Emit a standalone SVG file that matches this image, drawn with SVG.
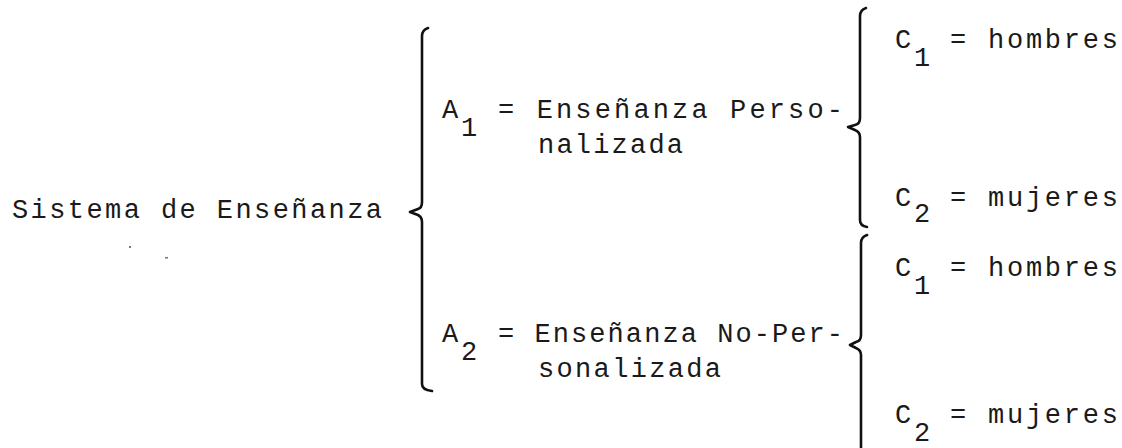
<svg xmlns="http://www.w3.org/2000/svg" width="1122" height="448" viewBox="0 0 1122 448">
<style>
text{font-family:"Liberation Mono","DejaVu Sans Mono",monospace;font-size:27px;fill:#1a1a1a}
.brace{fill:none;stroke:#111;stroke-width:2.6;stroke-linecap:round;stroke-linejoin:round}
.speck{fill:#777}
</style>
<rect width="1122" height="448" fill="#fff"/>
<g id="root">
<text x="12" y="218" textLength="370" lengthAdjust="spacing">Sistema de Enseñanza</text>
<rect class="speck" x="129" y="246" width="2" height="2"/>
<rect class="speck" x="165" y="257" width="3" height="1.5"/>
</g>
<g id="a1">
<text x="442" y="118">A</text>
<text x="461" y="136">1</text>
<text x="498" y="118" textLength="345" lengthAdjust="spacing">= Enseñanza Perso-</text>
<text x="538" y="153" textLength="145" lengthAdjust="spacing">nalizada</text>
</g>
<g id="a2">
<text x="442" y="342">A</text>
<text x="461" y="360">2</text>
<text x="498" y="342" textLength="345" lengthAdjust="spacing">= Enseñanza No-Per-</text>
<text x="538" y="377" textLength="183" lengthAdjust="spacing">sonalizada</text>
</g>
<g id="c1a">
<text x="895" y="48">C</text>
<text x="914" y="66">1</text>
<text x="950" y="48" textLength="168" lengthAdjust="spacing">= hombres</text>
</g>
<g id="c2a">
<text x="895" y="206">C</text>
<text x="914" y="222">2</text>
<text x="950" y="206" textLength="168" lengthAdjust="spacing">= mujeres</text>
</g>
<g id="c1b">
<text x="895" y="276">C</text>
<text x="914" y="294">1</text>
<text x="950" y="276" textLength="168" lengthAdjust="spacing">= hombres</text>
</g>
<g id="c2b">
<text x="895" y="423">C</text>
<text x="914" y="441">2</text>
<text x="950" y="423" textLength="168" lengthAdjust="spacing">= mujeres</text>
</g>
<g id="connectors">
<path class="brace" d="M428,28 Q422,30 422,36 L422,202 Q422,208 418,209 L410,212 L418,215 Q422,217 422,222 L422,384 Q422,390 432,391"/>
<path class="brace" d="M866,8 Q860,10 860,16 L860,118 Q860,124 855,125 L848,127 L855,130 Q860,132 860,137 L860,220 Q860,226 867,227"/>
<path class="brace" d="M867,235 Q861,237 861,243 L861,335 Q861,341 856,342 L850,345 L856,348 Q861,350 861,355 L861,448"/>
</g>
</svg>
